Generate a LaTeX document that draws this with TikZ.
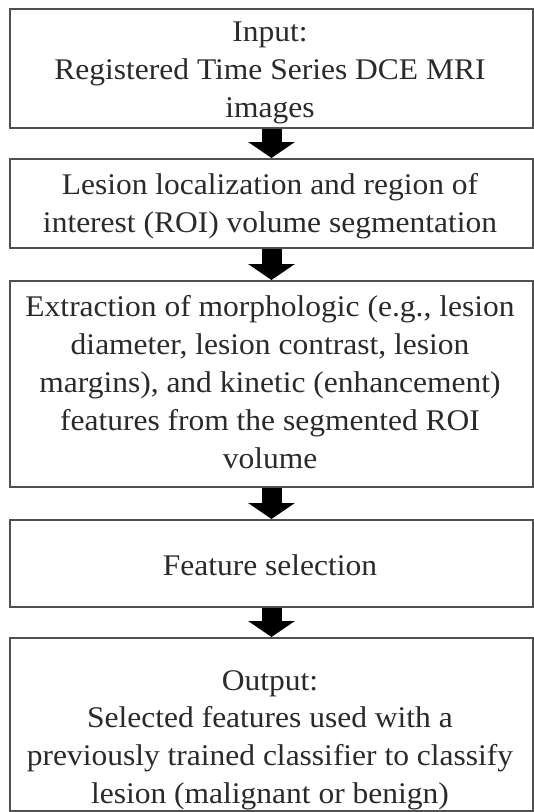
\documentclass[tikz,border=0pt]{standalone}
\usepackage{fontspec}
\setmainfont[FakeStretch=1.05]{Liberation Serif}
\usetikzlibrary{arrows.meta}
\definecolor{boxline}{HTML}{505050}
\definecolor{txt}{HTML}{2A2A2A}
\tikzset{
  box/.style={draw=boxline, line width=2pt, rectangle, inner sep=0pt, anchor=north west},
  lbl/.style={align=center, text=txt, font=\fontsize{30}{37.8}\selectfont, inner sep=0pt},
  bigarrow/.style={line width=20pt, -{Triangle[width=46pt,length=16pt]}, black}
}
\begin{document}
\begin{tikzpicture}[x=1pt,y=-1pt]
\useasboundingbox (0,0) rectangle (534,812);
\fill[white] (0,0) rectangle (534,812);
\node[box, minimum width=523pt, minimum height=119pt] (b1) at (9,8) {};
\node[box, minimum width=523pt, minimum height=89pt] (b2) at (9,158) {};
\node[box, minimum width=523pt, minimum height=206pt] (b3) at (9,280) {};
\node[box, minimum width=523pt, minimum height=87pt] (b4) at (9,519) {};
\node[box, minimum width=523pt, minimum height=173pt] (b5) at (9,637) {};
\node[lbl] (t1) at (270,73) {Input:\\Registered Time Series DCE MRI\\images};
\node[lbl] (t2) at (270,206) {Lesion localization and region of\\interest (ROI) volume segmentation};
\node[lbl] (t3) at (270,382) {Extraction of morphologic (e.g., lesion\\diameter, lesion contrast, lesion\\margins), and kinetic (enhancement)\\features from the segmented ROI\\volume};
\node[lbl] (t4) at (270,565) {Feature selection};
\node[lbl] (t5) at (270,740) {Output:\\Selected features used with a\\previously trained classifier to classify\\lesion (malignant or benign)};
\draw[bigarrow] (b1.south) -- (b2.north);
\draw[bigarrow] (b2.south) -- (b3.north);
\draw[bigarrow] (b3.south) -- (b4.north);
\draw[bigarrow] (b4.south) -- (b5.north);
\end{tikzpicture}
\end{document}
